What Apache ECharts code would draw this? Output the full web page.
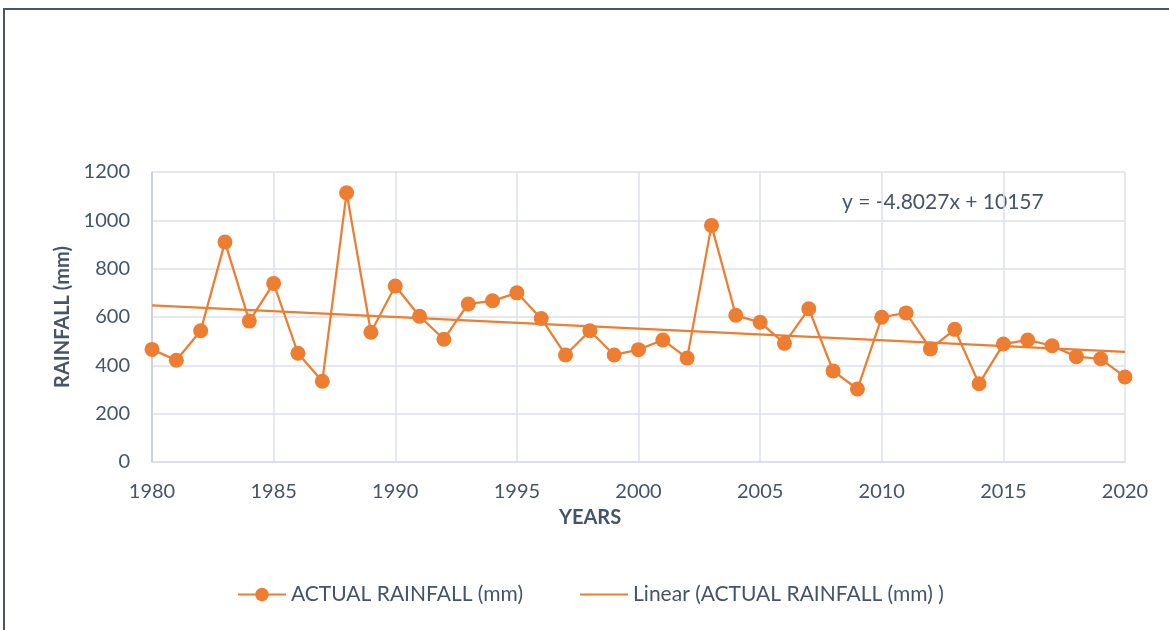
<!DOCTYPE html>
<html>
<head>
<meta charset="utf-8">
<script src="https://cdn.jsdelivr.net/npm/echarts@6/dist/echarts.min.js"></script>
<style>
  html, body { margin: 0; padding: 0; background: #fff; }
  #frame { position: absolute; left: 3px; top: 8px; width: 1300px; height: 700px;
           border-left: 2px solid #4a5568; border-top: 2px solid #4a5568; }
  #chart { position: absolute; left: 0; top: 0; width: 1169px; height: 630px; }
</style>
</head>
<body>
<div id="frame"></div>
<div id="chart"></div>
<script>
// years and rainfall
var years = [1980, 1981, 1982, 1983, 1984, 1985, 1986, 1987, 1988, 1989,
             1990, 1991, 1992, 1993, 1994, 1995, 1996, 1997, 1998, 1999,
             2000, 2001, 2002, 2003, 2004, 2005, 2006, 2007, 2008, 2009,
             2010, 2011, 2012, 2013, 2014, 2015, 2016, 2017, 2018, 2019, 2020];
var rainfall = [466, 421, 543, 910, 583, 739, 450, 334, 1114, 537,
                728, 603, 508, 654, 667, 700, 594, 443, 543, 443,
                465, 505, 430, 979, 607, 578, 491, 634, 377, 302,
                599, 617, 468, 549, 324, 488, 505, 481, 436, 427, 352];
// trend line end points (y = -4.8027x + 10157)
var trendYears = [1980, 2020];
var trendValues = [648, 456];
var equation = "y = -4.8027x + 10157";

var textColor = "#44546a";
var orange = "#ed7d31";

var myChart = echarts.init(document.getElementById("chart"));

var actual = years.map(function (y, i) { return [y, rainfall[i]]; });
var trend = trendYears.map(function (y, i) { return [y, trendValues[i]]; });

// plain numbers, no thousands separator
function plain(v) { return String(v); }

var option = {
  animation: false,
  textStyle: { fontFamily: "Lato" },
  grid: { left: 152, right: 44, top: 172, bottom: 168 },
  xAxis: {
    type: "value",
    min: 1980,
    max: 2020,
    interval: 5,
    axisLine: { lineStyle: { color: "#d9dde4", width: 1.5 } },
    axisTick: { show: false },
    axisLabel: { color: textColor, fontSize: 20, margin: 20, formatter: plain },
    splitLine: { lineStyle: { color: "#dde2ea", width: 1.5 } },
  },
  yAxis: {
    type: "value",
    min: 0,
    max: 1200,
    interval: 200,
    name: "RAINFALL (mm)",
    nameLocation: "middle",
    nameGap: 76,
    nameTextStyle: { color: textColor, fontSize: 20, fontWeight: "bold" },
    axisLine: { show: true, lineStyle: { color: "#c4cbd6", width: 1.5 } },
    axisTick: { show: false },
    axisLabel: { color: textColor, fontSize: 20, margin: 22, formatter: plain },
    splitLine: { lineStyle: { color: "#dde2ea", width: 1.5 } },
  },
  legend: {
    left: 232,
    top: 579,
    itemWidth: 48,
    itemHeight: 17,
    itemGap: 56,
    textStyle: { color: textColor, fontSize: 21 },
    data: [
      { name: "ACTUAL RAINFALL (mm)" },
      { name: "Linear (ACTUAL RAINFALL (mm) )", itemStyle: { opacity: 0 } },
    ],
  },
  graphic: [
    {
      type: "text",
      left: 559,
      top: 508,
      style: { text: "YEARS", fill: textColor, font: "bold 20px Lato" },
    },
    {
      type: "text",
      left: 842,
      top: 192,
      style: { text: equation, fill: textColor, font: "21px Lato" },
    },
  ],
  series: [
    {
      name: "ACTUAL RAINFALL (mm)",
      type: "line",
      data: actual,
      symbol: "circle",
      symbolSize: 15,
      lineStyle: { color: orange, width: 2.25 },
      itemStyle: { color: orange },
      z: 3,
    },
    {
      name: "Linear (ACTUAL RAINFALL (mm) )",
      type: "line",
      data: trend,
      symbol: "none",
      lineStyle: { color: orange, width: 2.25 },
      itemStyle: { color: orange },
      z: 2,
    },
  ],
};

myChart.setOption(option);
</script>
</body>
</html>
